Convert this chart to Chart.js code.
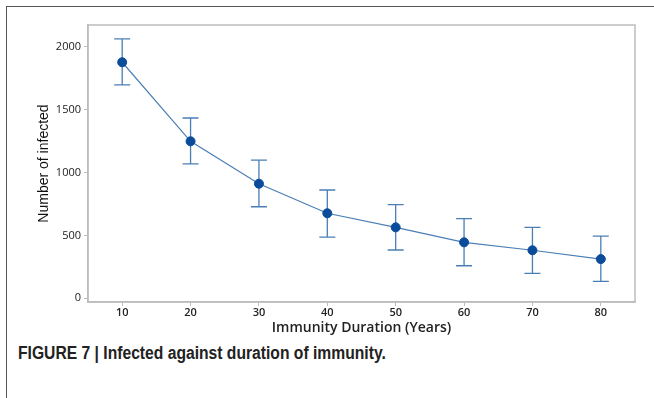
<!DOCTYPE html>
<html>
<head>
<meta charset="utf-8">
<script src="https://cdn.jsdelivr.net/npm/chart.js@4"></script>
<style>
  body { margin: 0; background: #fff; width: 654px; height: 398px; overflow: hidden; position: relative; }
  .frame { position: absolute; left: 6px; top: 6px; width: 660px; height: 400px;
           border-top: 1.5px solid #555; border-left: 1.5px solid #555; }
  #wrap { position: absolute; left: 0; top: 0; width: 654px; height: 340px; }
  .caption { position: absolute; left: 18px; top: 343px; font-family: "Liberation Sans", Arial, sans-serif;
             font-weight: bold; font-size: 18px; color: #222; white-space: nowrap;
             transform: scaleX(0.87); transform-origin: left top; }
</style>
</head>
<body>
<div class="frame"></div>
<div id="wrap"><canvas id="chart"></canvas></div>
<div class="caption">FIGURE 7 | Infected against duration of immunity.</div>
<script>
const years = [10, 20, 30, 40, 50, 60, 70, 80];
const infected = [1876, 1248, 911, 676, 564, 445, 382, 312];
const upperCI = [2061, 1433, 1099, 861, 744, 633, 564, 495];
const lowerCI = [1696, 1068, 728, 487, 384, 259, 199, 135];
const yTicks = [0, 500, 1000, 1500, 2000];

const lineColor = '#4a7fb5';
const dotColor = '#0a4c9a';
const axisGray = '#bdbdbd';

const errorBars = {
  id: 'errorBars',
  beforeDatasetsDraw(chart) {
    const ctx = chart.ctx;
    const xs = chart.scales.x, ys = chart.scales.y;
    ctx.save();
    ctx.strokeStyle = lineColor;
    ctx.lineWidth = 1.3;
    years.forEach((yr, i) => {
      const px = xs.getPixelForValue(yr);
      const top = ys.getPixelForValue(upperCI[i]);
      const bot = ys.getPixelForValue(lowerCI[i]);
      ctx.beginPath();
      ctx.moveTo(px, top); ctx.lineTo(px, bot);
      ctx.moveTo(px - 8, top); ctx.lineTo(px + 8, top);
      ctx.moveTo(px - 8, bot); ctx.lineTo(px + 8, bot);
      ctx.stroke();
    });
    ctx.restore();
  }
};

const plotBox = {
  id: 'plotBox',
  afterDraw(chart) {
    const a = chart.chartArea, ctx = chart.ctx;
    ctx.save();
    ctx.strokeStyle = axisGray;
    ctx.lineWidth = 1.5;
    ctx.strokeRect(a.left, a.top, a.right - a.left, a.bottom - a.top);
    ctx.restore();
  }
};

new Chart(document.getElementById('chart'), {
  type: 'line',
  data: {
    datasets: [{
      data: years.map((x, i) => ({ x: x, y: infected[i] })),
      borderColor: lineColor,
      borderWidth: 1.2,
      pointRadius: 4.5,
      pointBackgroundColor: dotColor,
      pointBorderColor: dotColor,
      pointBorderWidth: 1,
      tension: 0
    }]
  },
  options: {
    responsive: true,
    maintainAspectRatio: false,
    animation: false,
    layout: { padding: { left: 30, right: 19, top: 25, bottom: 0 } },
    plugins: { legend: { display: false }, tooltip: { enabled: false } },
    scales: {
      x: {
        type: 'linear',
        min: 5,
        max: 85,
        afterBuildTicks: s => { s.ticks = years.map(v => ({ value: v })); },
        afterFit: s => { s.height = 38; },
        border: { color: axisGray, width: 1.5 },
        grid: { drawOnChartArea: false, color: axisGray, tickLength: 4 },
        ticks: { color: '#222', padding: 0, font: { family: 'Open Sans', size: 11, weight: '600' } },
        title: { display: true, text: 'Immunity Duration (Years)', color: '#222', padding: { top: 0, bottom: 4 },
                 font: { family: 'Open Sans', size: 14, weight: '600' } }
      },
      y: {
        min: -29,
        max: 2172,
        afterBuildTicks: s => { s.ticks = yTicks.map(v => ({ value: v })); },
        afterFit: s => { s.width = 58; },
        border: { color: axisGray, width: 1.5 },
        grid: { drawOnChartArea: false, color: axisGray, tickLength: 4 },
        ticks: { color: '#222', padding: 3, font: { family: 'Open Sans', size: 11 },
                 callback: v => String(v) },
        title: { display: true, text: 'Number of infected', color: '#111', padding: { top: 6, bottom: 0 },
                 font: { family: 'Liberation Sans', size: 14 } }
      }
    }
  },
  plugins: [errorBars, plotBox]
});
</script>
</body>
</html>
